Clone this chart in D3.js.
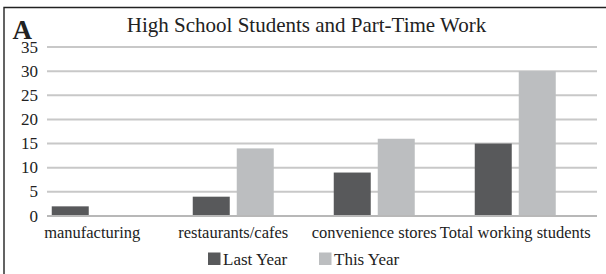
<!DOCTYPE html>
<html><head><meta charset="utf-8">
<script src="https://cdn.jsdelivr.net/npm/d3@7"></script>
<style>
html,body{margin:0;padding:0;background:#fff;}
svg{display:block;}
text{font-family:"Liberation Serif","Times New Roman",serif;fill:#222;}
</style></head>
<body>
<svg id="chart" width="606" height="274"></svg>
<script>
const title = "High School Students and Part-Time Work";
const categories = ["manufacturing","restaurants/cafes","convenience stores","Total working students"];
const seriesNames = ["Last Year","This Year"];
const lastYear = [2, 4, 9, 15];
const thisYear = [0, 14, 16, 30];
const yTicks = [0,5,10,15,20,25,30,35];
const colors = ["#58595b","#bcbec0"];

const svg = d3.select("#chart");
const W = 606, H = 274;
svg.append("rect").attr("width",W).attr("height",H).attr("fill","#fff");

// frame (top & left)
svg.append("path").attr("d","M4,274 V7.5 H606").attr("fill","none").attr("stroke","#222").attr("stroke-width",1.4);

svg.append("text").attr("x",12.5).attr("y",39).attr("font-size",27).attr("font-weight","bold").text("A");

svg.append("text").attr("x",306.5).attr("y",32).attr("text-anchor","middle").attr("font-size",21).text(title);

const y = d3.scaleLinear().domain([0,35]).range([216,47]);
const gridX0 = 47, gridX1 = 597;

// gridlines
svg.append("g").selectAll("line").data(yTicks).join("line")
  .attr("x1",gridX0).attr("x2",gridX1).attr("y1",d=>y(d)).attr("y2",d=>y(d))
  .attr("stroke",d=>d===0?"#b8b8b8":"#c8c8c8").attr("stroke-width",2);

// y labels
svg.append("g").selectAll("text").data(yTicks).join("text")
  .attr("x",38).attr("y",d=>y(d)+5.5).attr("text-anchor","end").attr("font-size",17).text(d=>d);

const x0 = d3.scaleBand().domain(categories).range([21.75,585.75]).paddingInner(0).paddingOuter(0);
const x1 = d3.scaleBand().domain(seriesNames).range([0,81]).paddingInner(2-81/44);

const data = categories.map((c,i)=>({cat:c, vals:[lastYear[i], thisYear[i]]}));
const g = svg.append("g");
data.forEach(d=>{
  const cx = x0(d.cat) + x0.bandwidth()/2 - 40.5;
  seriesNames.forEach((s,j)=>{
    const v = d.vals[j];
    if (v<=0) return;
    g.append("rect").attr("x",cx + x1(s)).attr("width",x1.bandwidth())
      .attr("y",y(v)).attr("height",y(0)-y(v)-1).attr("fill",colors[j]);
  });
});

// x labels
svg.append("g").selectAll("text").data(categories).join("text")
  .attr("x",d=>x0(d)+x0.bandwidth()/2).attr("y",238).attr("text-anchor","middle").attr("font-size",16.5).text(d=>d);

// legend
const leg = svg.append("g");
const legX = [208, 319];
seriesNames.forEach((s,j)=>{
  leg.append("rect").attr("x",legX[j]).attr("y",252.5).attr("width",12.5).attr("height",12.5).attr("fill",colors[j]);
  leg.append("text").attr("x",legX[j]+15).attr("y",265).attr("font-size",17).text(s);
});
</script>
</body></html>
